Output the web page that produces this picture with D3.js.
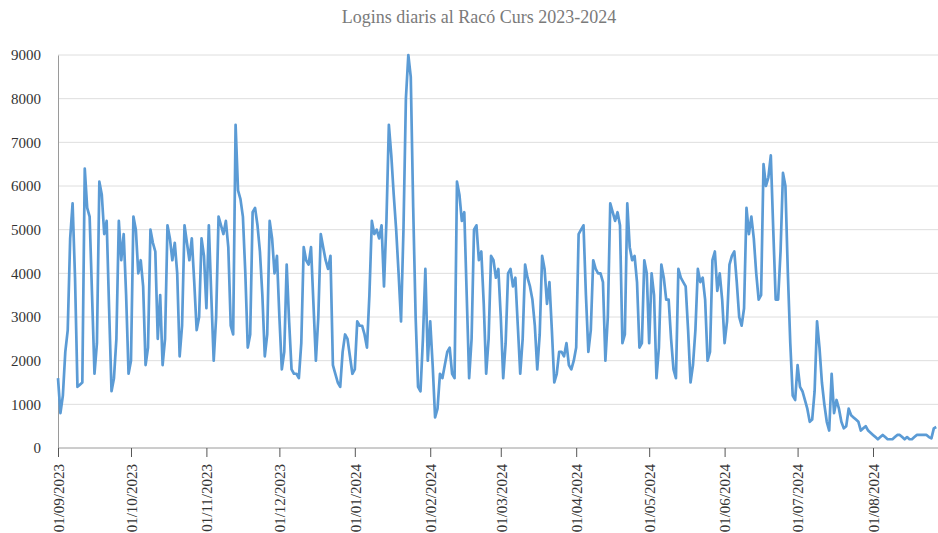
<!DOCTYPE html>
<html>
<head>
<meta charset="utf-8">
<script src="https://cdn.jsdelivr.net/npm/d3@7"></script>
<style>
    body { margin: 0; background: #fff; }
    svg { display: block; }
    svg text { font-family: "Liberation Serif", "DejaVu Serif", serif !important; }
</style>
</head>
<body>
<div id="chart"></div>
<script>
// logins per dia, un array per mes (01/09/2023 - 27/08/2024)
const sep = [1600,800,1200,2200,2700,4800,5600,3900,1400,1450,1500,6400,5500,5300,3500,1700,2400,6100,5800,4900,5200,3200,1300,1600,2500,5200,4300,4900,3500,1700]
const oct = [2000,5300,5000,4000,4300,3700,1900,2300,5000,4700,4500,2500,3500,1900,2500,5100,4800,4300,4700,4000,2100,2800,5100,4700,4300,4800,3800,2700,3000,4800,4400]
const nov = [3200,5100,3500,2000,3000,5300,5100,4900,5200,4600,2800,2600,7400,5900,5700,5300,4000,2300,2600,5400,5500,5100,4500,3500,2100,2600,5200,4800,4000,4400]
const dec = [3000,1800,2200,4200,2900,1800,1700,1700,1600,2400,4600,4300,4200,4600,3300,2000,3000,4900,4600,4300,4100,4400,1900,1700,1500,1400,2200,2600,2500,2100,1700]
const jan = [1800,2900,2800,2800,2600,2300,3500,5200,4900,5000,4800,5100,3700,5200,7400,6700,5800,5000,4000,2900,5000,8000,9000,8500,5500,3000,1400,1300,2500,4100,2000]
const feb = [2900,1900,700,900,1700,1600,1900,2200,2300,1700,1600,6100,5800,5200,5400,3500,1600,2500,5000,5100,4300,4500,3300,1700,2500,4400,4300,3900,4100]
const mar = [3000,1600,2400,4000,4100,3700,3900,2800,1700,2500,4200,3900,3700,3400,2800,1800,2600,4400,4100,3300,3800,2700,1500,1700,2200,2200,2100,2400,1900,1800,2000]
const apr = [2300,4900,5000,5100,3500,2200,2700,4300,4100,4000,4000,3800,2000,3000,5600,5400,5200,5400,5100,2400,2600,5600,4600,4300,4400,3800,2300,2400,4300,4000]
const may = [2400,4000,3500,1600,2300,4200,3900,3400,3400,2500,1800,1600,4100,3900,3800,3700,2700,1500,1900,2700,4100,3800,3900,3400,2000,2200,4300,4500,3600,4000,3400]
const jun = [2400,2900,4200,4400,4500,3800,3000,2800,3200,5500,4900,5300,4800,4000,3400,3500,6500,6000,6200,6700,5000,3400,3400,4500,6300,6000,4000,2400,1200,1100]
const jul = [1900,1400,1300,1100,900,600,650,1300,2900,2300,1500,1000,600,400,1700,800,1100,900,600,450,500,900,750,700,650,600,400,450,500,400,350]
const aug = [300,250,200,250,300,250,200,200,200,250,300,300,250,200,250,200,200,250,300,300,300,300,300,250,220,450,480]

const yTicks = [0,1000,2000,3000,4000,5000,6000,7000,8000,9000]
const title = "Logins diaris al Racó Curs 2023-2024"

const width = 938, height = 533
const margin = {left: 58, top: 55, bottom: 448}
const serif = '"Liberation Serif", "DejaVu Serif", serif'

var values = [].concat(sep, oct, nov, dec, jan, feb, mar, apr, may, jun, jul, aug)
var start = Date.UTC(2023, 8, 1)
var data = values.map((v, i) => ({date: new Date(start + i * 864e5), value: v}))

var svg = d3.select('#chart')
    .append('svg')
    .attr('width', width)
    .attr('height', height)

var x = d3.scaleUtc()
    .domain([new Date(Date.UTC(2023, 8, 1)), new Date(Date.UTC(2024, 7, 1))])
    .range([margin.left, 873])

var y = d3.scaleLinear()
    .domain([0, 9000])
    .range([margin.bottom, margin.top])

//title
svg.append('text')
    .attr('x', 479)
    .attr('y', 23)
    .attr('text-anchor', 'middle')
    .attr('font-size', 18)
    .attr('fill', '#7a7a7a')
    .text(title)

//gridlines
svg.append('g')
    .selectAll('line')
    .data(yTicks.slice(1))
    .join('line')
    .attr('x1', margin.left)
    .attr('x2', width)
    .attr('y1', d => y(d))
    .attr('y2', d => y(d))
    .attr('stroke', '#dedede')
    .attr('stroke-width', 1)

//y axis
var yAxis = svg.append('g')
    .attr('transform', `translate(${margin.left},0)`)
    .call(d3.axisLeft(y).tickValues(yTicks).tickSize(0).tickPadding(17).tickFormat(d3.format('d')))
yAxis.attr('font-family', serif)
yAxis.select('.domain').attr('stroke', '#9a9a9a')
yAxis.selectAll('text')
    .style('font-family', serif)
    .attr('font-size', 15)
    .attr('fill', '#333')

//x axis
var xAxis = svg.append('g')
    .attr('transform', `translate(0,${margin.bottom})`)
    .call(d3.axisBottom(x)
        .tickValues(d3.utcMonth.range(new Date(Date.UTC(2023, 8, 1)), new Date(Date.UTC(2024, 7, 2))))
        .tickSize(9)
        .tickSizeOuter(0)
        .tickFormat(d3.utcFormat('%d/%m/%Y')))
xAxis.attr('font-family', serif)
xAxis.select('.domain').attr('stroke', '#9a9a9a').attr('d', `M${margin.left},0H${width}`)
xAxis.selectAll('.tick line').attr('stroke', '#555')
xAxis.selectAll('text')
    .style('font-family', serif)
    .attr('font-size', 15)
    .attr('fill', '#333')
    .attr('text-anchor', 'end')
    .attr('transform', 'rotate(-90)')
    .attr('x', -16)
    .attr('y', 0)
    .attr('dy', '0.35em')

//line
var line = d3.line()
    .x(d => x(d.date))
    .y(d => y(d.value))

svg.append('path')
    .datum(data)
    .attr('d', line)
    .attr('fill', 'none')
    .attr('stroke', '#5b9bd5')
    .attr('stroke-width', 2.7)
    .attr('stroke-linejoin', 'round')
</script>
</body>
</html>
